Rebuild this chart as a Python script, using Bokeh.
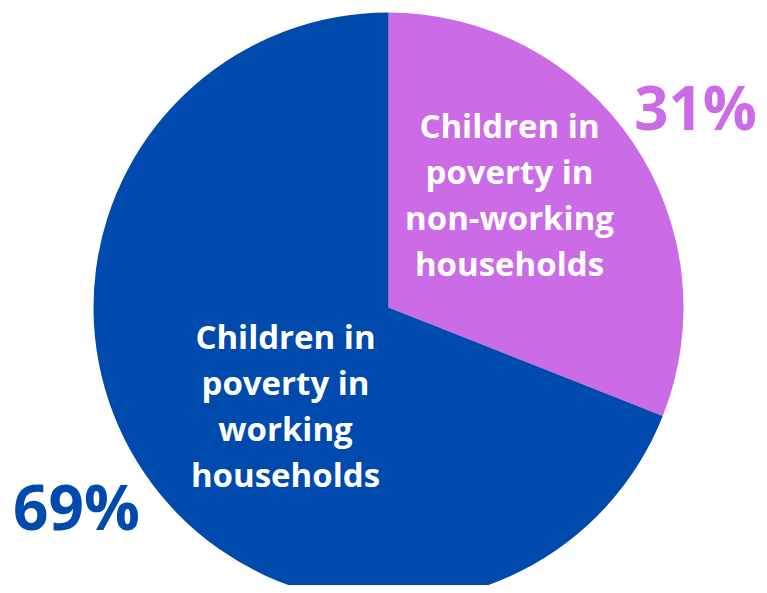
import math
from bokeh.plotting import figure
from bokeh.models import Range1d, ColumnDataSource
from bokeh.core.properties import value
from bokeh.embed import file_html
from bokeh.resources import INLINE

# Data
categories = ["Children in\npoverty in\nnon-working\nhouseholds",
              "Children in\npoverty in\nworking\nhouseholds"]
shares = [31, 69]
colors = ["#CB6CE6", "#004AAD"]

# Layout (pixel units; pie centre at origin)
R = 295
LINE = 46
label_pos = [(121, 113), (-103, -98)]
pct_pos = [(307, 201), (-312, -198)]
pct_size = ["60px", "62px"]

total = sum(shares)
starts, ends = [], []
a = math.pi / 2
for s in shares:
    starts.append(a)
    a -= 2 * math.pi * s / total
    ends.append(a)

src = ColumnDataSource(dict(start=starts, end=ends, color=colors))

p = figure(width=759, height=585, output_backend="svg", toolbar_location=None,
           x_range=Range1d(-388, 371), y_range=Range1d(-278, 307),
           min_border=0, match_aspect=False)
p.axis.visible = False
p.grid.visible = False
p.outline_line_color = None
p.background_fill_color = "white"

p.wedge(x=0, y=0, radius=R, start_angle="start", end_angle="end",
        direction="clock", fill_color="color", line_color=None, source=src)

lx, ly, lt = [], [], []
for cat, (cx, cy) in zip(categories, label_pos):
    lines = cat.split("\n")
    n = len(lines)
    for i, ln in enumerate(lines):
        lx.append(cx)
        ly.append(cy + ((n - 1) / 2 - i) * LINE)
        lt.append(ln)

p.text(x=lx, y=ly, text=lt,
       text_color="white", text_font=value("Open Sans"), text_font_style="bold",
       text_font_size="33px", text_align="center", text_baseline="middle")

psrc = ColumnDataSource(dict(x=[q[0] for q in pct_pos], y=[q[1] for q in pct_pos],
                             t=[f"{s}%" for s in shares], c=colors, fs=pct_size))
p.text(x="x", y="y", text="t", text_color="c", text_font_size="fs",
       text_font=value("Open Sans"), text_font_style="bold",
       text_align="center", text_baseline="middle", source=psrc)

open("out.html", "w").write(file_html(p, INLINE))
